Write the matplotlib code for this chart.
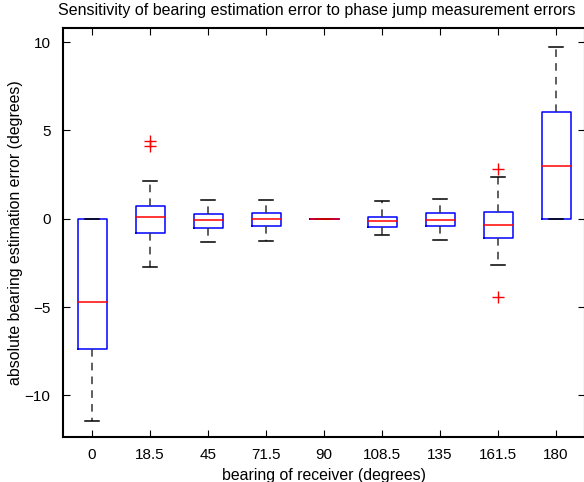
import matplotlib
matplotlib.use("Agg")
import matplotlib.pyplot as plt

plt.rcParams['font.family'] = ['Liberation Sans', 'DejaVu Sans']

categories = ['0', '18.5', '45', '71.5', '90', '108.5', '135', '161.5', '180']
medians = [-4.7, 0.1, -0.07, -0.02, 0.0, -0.13, -0.07, -0.36, 3.0]
q1 = [-7.35, -0.78, -0.53, -0.40, 0.0, -0.49, -0.41, -1.09, 0.0]
q3 = [0.0, 0.72, 0.27, 0.32, 0.0, 0.13, 0.32, 0.40, 6.05]
whislo = [-11.43, -2.75, -1.30, -1.23, 0.0, -0.94, -1.21, -2.62, 0.0]
whishi = [0.0, 2.13, 1.06, 1.08, 0.0, 0.98, 1.13, 2.36, 9.75]
outliers = [[], [4.13, 4.43], [], [], [], [], [], [2.83, -4.43], []]

stats = []
for i in range(len(categories)):
    stats.append(dict(med=medians[i], q1=q1[i], q3=q3[i], whislo=whislo[i],
                      whishi=whishi[i], fliers=outliers[i], label=categories[i]))

fig = plt.figure(figsize=(5.84, 4.82), dpi=100)
ax = fig.add_axes([63/584, 45/482, 522/584, 409/482])

ax.bxp(stats, positions=range(1, len(categories) + 1), widths=0.5,
       showfliers=True, patch_artist=False,
       boxprops=dict(color='blue', linewidth=1.1),
       medianprops=dict(color='red', linewidth=1.1),
       whiskerprops=dict(color='#333333', linestyle=(0, (5, 4)), linewidth=1.1),
       capprops=dict(color='black', linewidth=1.1),
       capwidths=0.25,
       flierprops=dict(marker='+', markeredgecolor='red', markersize=8,
                       linestyle='none', markeredgewidth=1.0))

ax.set_xlim(0.5, 9.5)
ax.set_ylim(-12.35, 10.8)
ax.set_yticks([-10, -5, 0, 5, 10])
ax.set_yticklabels(['\u221210', '\u22125', '0', '5', '10'])
ax.set_xticks(range(1, len(categories) + 1))
ax.set_xticklabels(categories)
ax.tick_params(direction='in', top=True, right=True, length=5, width=0.8,
               labelsize=11)
ax.tick_params(axis='x', pad=8)
ax.tick_params(axis='y', pad=9)
for s in ax.spines.values():
    s.set_linewidth(1.5)

fig.text(317/584, 1 - 10/482,
         'Sensitivity of bearing estimation error to phase jump measurement errors',
         fontsize=11.5, ha='center', va='center')
ax.set_xlabel('bearing of receiver (degrees)', fontsize=11.4, labelpad=4)
ax.set_ylabel('absolute bearing estimation error (degrees)', fontsize=11.4, labelpad=1)

fig.savefig('out.png', dpi=100)
